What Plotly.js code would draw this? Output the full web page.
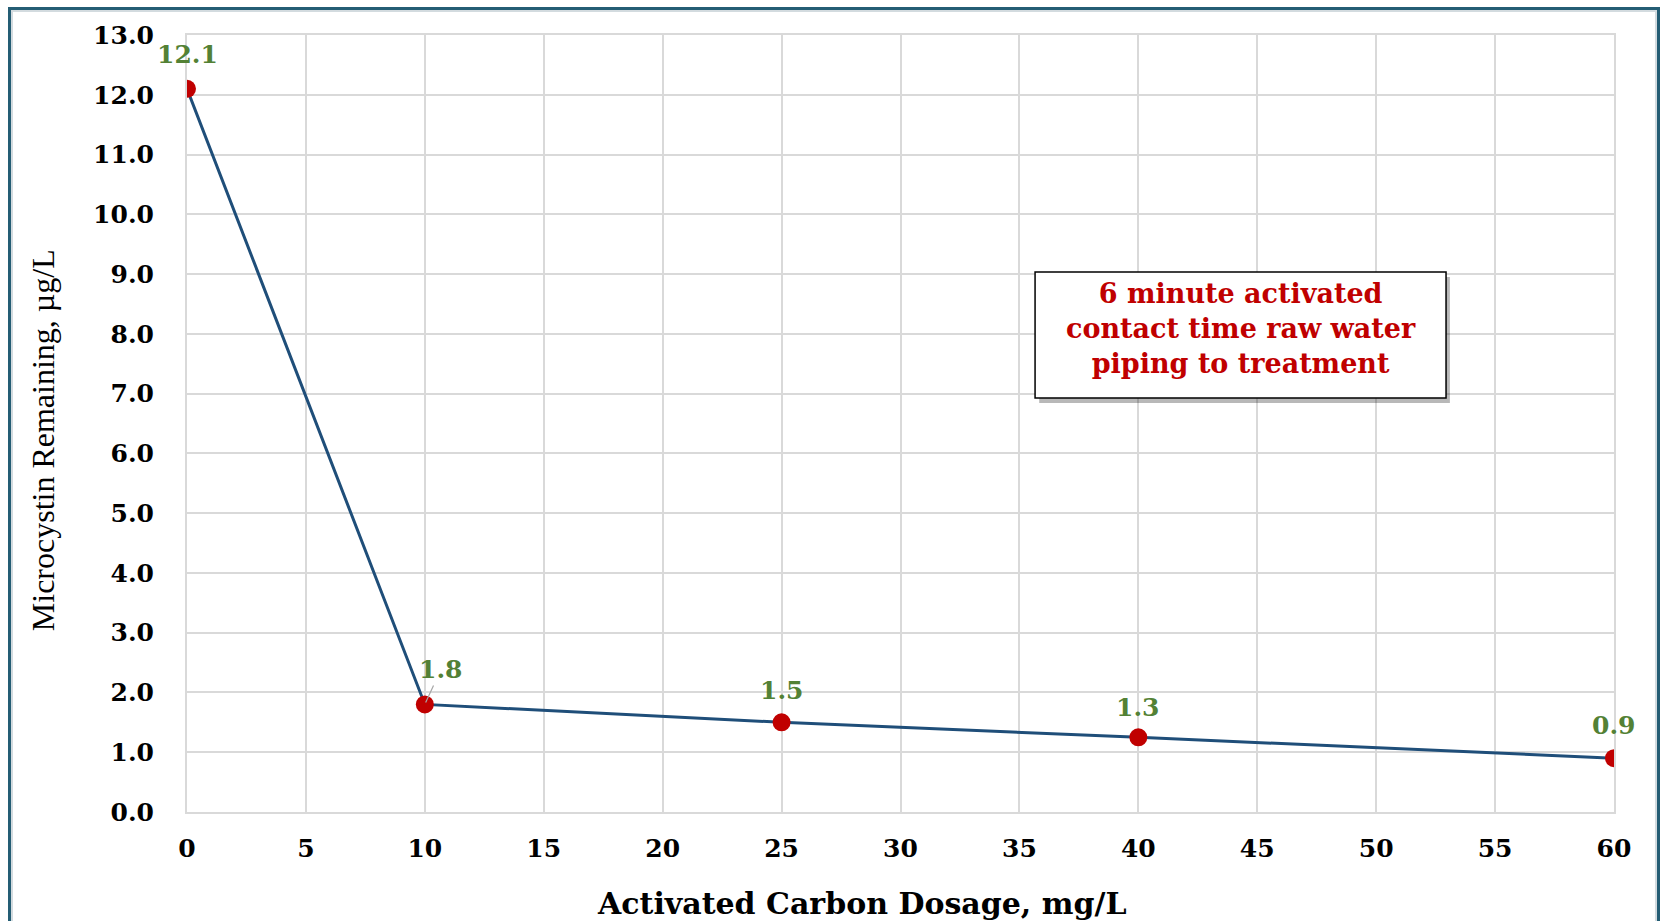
<!DOCTYPE html>
<html>
<head>
<meta charset="utf-8">
<script src="https://cdn.plot.ly/plotly-3.0.1.min.js"></script>
<style>
  html, body { margin: 0; padding: 0; background: #fff; }
  #wrap { position: relative; width: 1665px; height: 921px; overflow: hidden; }
  #chart { position: absolute; left: 0; top: 0; width: 1665px; height: 921px; }
  #frame { position: absolute; left: 8px; top: 7px; width: 1646px; height: 940px;
           border: 3px solid #245D74; box-shadow: inset 0 0 0 2px #D3DBDF; pointer-events: none; }
</style>
</head>
<body>
<div id="wrap">
  <div id="chart"></div>
  <div id="frame"></div>
</div>
<script>
// Data
const dosage = [0, 10, 25, 40, 60];                 // Activated carbon dosage, mg/L
const remaining = [12.1, 1.8, 1.5, 1.25, 0.9];      // Microcystin remaining, µg/L
const xTicks = [0, 5, 10, 15, 20, 25, 30, 35, 40, 45, 50, 55, 60];
const yTicks = [0, 1, 2, 3, 4, 5, 6, 7, 8, 9, 10, 11, 12, 13];
const noteText = "6 minute activated<br>contact time raw water<br>piping to treatment";
const xTitle = "Activated Carbon Dosage, mg/L";
const yTitle = "Microcystin Remaining, µg/L";

// Label placement (pixels, style only)
const labelDx = [0, 16, 0, 0, 0];
const labelDy = [-34, -35, -32, -30, -33];
const leader  = [false, true, false, false, false];

const serifBold = "DejaVu Serif";

const trace = {
  x: dosage,
  y: remaining,
  type: 'scatter',
  mode: 'lines+markers',
  line: { color: '#1F4E79', width: 3 },
  marker: { color: '#C00000', size: 18, line: { width: 0 } },
  hoverinfo: 'x+y',
  showlegend: false
};

const labelAnns = dosage.map((xv, i) => {
  const base = {
    x: xv, y: remaining[i], xref: 'x', yref: 'y',
    text: '<b>' + remaining[i].toFixed(1) + '</b>',
    font: { family: serifBold, size: 25, color: '#538135' }
  };
  if (leader[i]) {
    return Object.assign(base, {
      showarrow: true, ax: labelDx[i], ay: labelDy[i], arrowhead: 0,
      arrowwidth: 1.2, arrowcolor: '#A6A6A6', standoff: 2, startstandoff: 0
    });
  }
  return Object.assign(base, {
    showarrow: false, xanchor: 'center', yanchor: 'middle',
    xshift: labelDx[i], yshift: -labelDy[i]
  });
});

const noteAnn = {
  xref: 'paper', yref: 'paper', x: 0.7383, y: 0.614, yshift: 6,
  xanchor: 'center', yanchor: 'middle',
  text: '<b>' + noteText + '</b>',
  showarrow: false,
  font: { family: serifBold, size: 27, color: '#C00000' },
  align: 'center'
};

const xTitleAnn = {
  xref: 'paper', yref: 'paper', x: 0.473, y: 0, yshift: -91,
  xanchor: 'center', yanchor: 'middle', showarrow: false,
  text: '<b>' + xTitle + '</b>',
  font: { family: serifBold, size: 30, color: '#000000' }
};

const yTitleAnn = {
  xref: 'paper', yref: 'paper', x: 0, y: 0.4785, xshift: -144,
  xanchor: 'center', yanchor: 'middle', showarrow: false, textangle: -90,
  text: yTitle,
  font: { family: 'Liberation Serif', size: 32, color: '#000000' }
};

const layout = {
  width: 1665, height: 921,
  margin: { l: 187, r: 51, t: 35, b: 109 },
  paper_bgcolor: 'rgba(0,0,0,0)',
  plot_bgcolor: '#FFFFFF',
  xaxis: {
    range: [0, 60], tickvals: xTicks, ticktext: xTicks.map(String),
    showgrid: true, gridcolor: '#D9D9D9', gridwidth: 1.5,
    showline: true, linecolor: '#D9D9D9', linewidth: 2, mirror: true,
    zeroline: false, ticks: '', ticklabelstandoff: 13,
    tickfont: { family: serifBold, size: 25, color: '#000000', weight: 'bold' },
    automargin: false, fixedrange: true
  },
  yaxis: {
    range: [0, 13], tickvals: yTicks, ticktext: yTicks.map(v => v.toFixed(1)),
    showgrid: true, gridcolor: '#D9D9D9', gridwidth: 1.5,
    showline: true, linecolor: '#D9D9D9', linewidth: 2, mirror: true,
    zeroline: false, ticks: '', ticklabelstandoff: 26,
    tickfont: { family: serifBold, size: 25, color: '#000000', weight: 'bold' },
    automargin: false, fixedrange: true
  },
  shapes: [
    { type: 'rect', xref: 'paper', yref: 'paper', layer: 'above',
      x0: 0.5972, x1: 0.8850, y0: 0.5265, y1: 0.6885,
      fillcolor: 'rgba(0,0,0,0.28)', line: { width: 0 } },
    { type: 'rect', xref: 'paper', yref: 'paper', layer: 'above',
      x0: 0.5943, x1: 0.8823, y0: 0.5328, y1: 0.6950,
      fillcolor: '#FFFFFF', line: { color: '#000000', width: 1.5 } }
  ],
  annotations: labelAnns.concat([noteAnn, xTitleAnn, yTitleAnn])
};

Plotly.newPlot('chart', [trace], layout, { displayModeBar: false });
</script>
</body>
</html>
